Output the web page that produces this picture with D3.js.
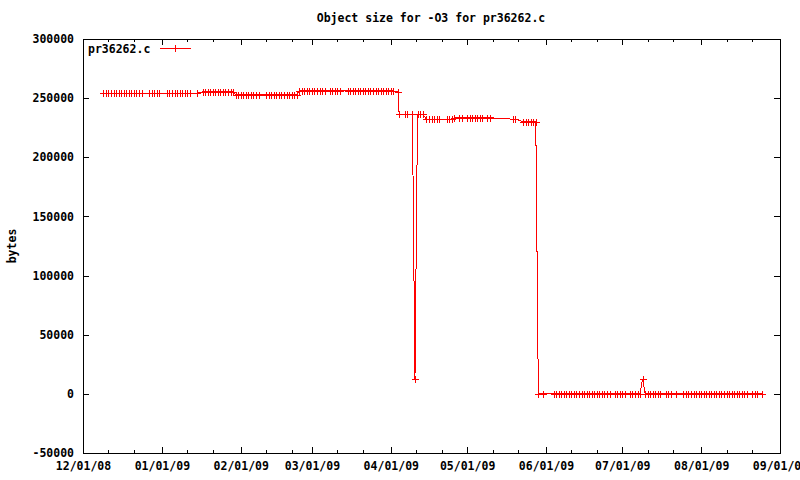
<!DOCTYPE html>
<html><head><meta charset="utf-8">
<script src="https://cdn.jsdelivr.net/npm/d3@7/dist/d3.min.js"></script>
<style>
body{margin:0;background:#fff}
svg{display:block}
text{font-family:"DejaVu Sans Mono",monospace;font-weight:bold;font-size:11.5px;fill:#000}
</style>
</head><body>
<svg id="chart" width="800" height="480"></svg>
<script>
const title = "Object size for -O3 for pr36262.c";
const seriesName = "pr36262.c";
const yLabel = "bytes";
const yTicks = [-50000, 0, 50000, 100000, 150000, 200000, 250000, 300000];
const xTickLabels = ["12/01/08","01/01/09","02/01/09","03/01/09","04/01/09","05/01/09","06/01/09","07/01/09","08/01/09","09/01/09"];

const dates = [
  "2008-12-09","2008-12-10","2008-12-11","2008-12-12","2008-12-13","2008-12-14","2008-12-15","2008-12-16",
  "2008-12-17","2008-12-18","2008-12-19","2008-12-20","2008-12-21","2008-12-22","2008-12-23","2008-12-24",
  "2008-12-27","2008-12-28","2008-12-29","2008-12-30","2008-12-31",
  "2009-01-03","2009-01-04","2009-01-05","2009-01-06","2009-01-07","2009-01-08","2009-01-09","2009-01-10","2009-01-11","2009-01-12",
  "2009-01-15",
  "2009-01-17","2009-01-18","2009-01-19","2009-01-20","2009-01-21","2009-01-22","2009-01-23","2009-01-24","2009-01-25","2009-01-26","2009-01-27","2009-01-28","2009-01-29",
  "2009-01-30","2009-01-31","2009-02-01","2009-02-02","2009-02-03","2009-02-04","2009-02-05","2009-02-06","2009-02-07","2009-02-08",
  "2009-02-11","2009-02-12","2009-02-13","2009-02-14","2009-02-15","2009-02-16","2009-02-17","2009-02-18","2009-02-19","2009-02-20","2009-02-21","2009-02-22","2009-02-23",
  "2009-02-24","2009-02-25","2009-02-26","2009-02-27","2009-02-28",
  "2009-03-01","2009-03-02","2009-03-03","2009-03-04","2009-03-05","2009-03-06",
  "2009-03-08","2009-03-09","2009-03-10","2009-03-11","2009-03-12",
  "2009-03-15","2009-03-16","2009-03-17","2009-03-18","2009-03-19","2009-03-20","2009-03-21","2009-03-22","2009-03-23",
  "2009-03-24","2009-03-25","2009-03-26","2009-03-27","2009-03-28","2009-03-29","2009-03-30","2009-03-31",
  "2009-04-01","2009-04-02",
  "2009-04-04",
  "2009-04-04 06:00","2009-04-06 12:00","2009-04-07 12:00","2009-04-09 12:00",
  "2009-04-10 12:00",
  "2009-04-11 12:00","2009-04-12 12:00","2009-04-13 12:00",
  "2009-04-15","2009-04-16","2009-04-17","2009-04-18","2009-04-19","2009-04-20","2009-04-23","2009-04-24","2009-04-25",
  "2009-04-26","2009-04-28","2009-04-29","2009-05-01","2009-05-02","2009-05-03","2009-05-04","2009-05-05","2009-05-06","2009-05-07","2009-05-09","2009-05-10",
  "2009-05-19","2009-05-20",
  "2009-05-23","2009-05-24","2009-05-25","2009-05-26","2009-05-27","2009-05-28",
  "2009-05-29","2009-05-31",
  "2009-06-04","2009-06-05","2009-06-06","2009-06-07","2009-06-08","2009-06-09","2009-06-10","2009-06-11","2009-06-12",
  "2009-06-13","2009-06-14","2009-06-15","2009-06-16","2009-06-17","2009-06-18","2009-06-19","2009-06-20","2009-06-21",
  "2009-06-22","2009-06-23","2009-06-24","2009-06-25","2009-06-26",
  "2009-06-28","2009-06-29","2009-06-30","2009-07-01","2009-07-02",
  "2009-07-04","2009-07-05","2009-07-06","2009-07-07","2009-07-08",
  "2009-07-09",
  "2009-07-10","2009-07-11","2009-07-12","2009-07-13","2009-07-14","2009-07-15","2009-07-16",
  "2009-07-18","2009-07-19","2009-07-20",
  "2009-07-22",
  "2009-07-25","2009-07-26","2009-07-27","2009-07-28","2009-07-29","2009-07-30","2009-07-31",
  "2009-08-01","2009-08-02","2009-08-03","2009-08-04","2009-08-05","2009-08-06","2009-08-07","2009-08-08","2009-08-09","2009-08-10",
  "2009-08-11","2009-08-12","2009-08-13","2009-08-14","2009-08-15","2009-08-16","2009-08-17","2009-08-18","2009-08-19",
  "2009-08-21","2009-08-22","2009-08-23",
  "2009-08-25"
];

const sizes = [
  254200,254200,254200,254200,254200,254200,254200,254200,
  254200,254200,254200,254200,254200,254200,254200,254200,
  254200,254200,254200,254200,254200,
  254200,254200,254200,254200,254200,254200,254200,254200,254200,254200,
  254200,
  255300,255300,255300,255300,255300,255300,255300,255300,255300,255300,255300,255300,255300,
  253000,253000,253000,253000,253000,253000,253000,253000,253000,253000,
  253000,253000,253000,253000,253000,253000,253000,253000,253000,253000,253000,253000,253000,
  256200,256200,256200,256200,256200,
  256200,256200,256200,256200,256200,256200,
  256200,256200,256200,256200,256200,
  256200,256200,256200,256200,256200,256200,256200,256200,256200,
  256200,256200,256200,256200,256200,256200,256200,256200,
  256200,256200,
  255100,
  236500,236500,236500,236500,
  12400,
  236500,236500,236500,
  232200,232200,232200,232200,232200,232200,232200,232200,232200,
  233400,233400,233400,233400,233400,233400,233400,233400,233400,233400,233400,233400,
  232200,232200,
  230000,230000,230000,230000,230000,230000,
  0,0,
  0,0,0,0,0,0,0,0,0,
  0,0,0,0,0,0,0,0,0,
  0,0,0,0,0,
  0,0,0,0,0,
  0,0,0,0,0,
  12800,
  0,0,0,0,0,0,0,
  0,0,0,
  0,
  0,0,0,0,0,0,0,
  0,0,0,0,0,0,0,0,0,0,
  0,0,0,0,0,0,0,0,0,
  0,0,0,
  0
];

const parseDay = d3.timeParse("%Y-%m-%d");
const parseDayTime = d3.timeParse("%Y-%m-%d %H:%M");
const parseTick = d3.timeParse("%m/%d/%y");
const data = dates.map((s, i) => ({ t: s.length > 10 ? parseDayTime(s) : parseDay(s), v: sizes[i] }));

const L = 83, R = 780, T = 39, B = 453;
const majorTicks = xTickLabels.map(parseTick);
const minorTicks = [];
majorTicks.slice(0, -1).forEach(m => { minorTicks.push(d3.timeDay.offset(m, 10), d3.timeDay.offset(m, 20)); });

const x = d3.scaleTime().domain([majorTicks[0], majorTicks[majorTicks.length - 1]]).range([L, R]);
const y = d3.scaleLinear().domain([yTicks[0], yTicks[yTicks.length - 1]]).range([B, T]);

const svg = d3.select("#chart");
svg.append("rect").attr("width", 800).attr("height", 480).attr("fill", "#fff");

function styleAxis(g) {
  g.select(".domain").remove();
  g.selectAll("line").attr("stroke", "#000").attr("shape-rendering", "crispEdges");
  g.attr("font-family", null).attr("font-size", null);
  g.selectAll("text").attr("fill", "#000");
}

const fmt = d3.timeFormat("%m/%d/%y");
svg.append("g").attr("transform", `translate(0,${B})`)
  .call(d3.axisBottom(x).tickValues(majorTicks).tickFormat(fmt).tickSizeInner(-6).tickSizeOuter(0).tickPadding(9))
  .call(styleAxis);
svg.append("g").attr("transform", `translate(0,${B})`)
  .call(d3.axisBottom(x).tickValues(minorTicks).tickFormat("").tickSizeInner(-3).tickSizeOuter(0))
  .call(styleAxis);
svg.append("g").attr("transform", `translate(0,${T})`)
  .call(d3.axisTop(x).tickValues(majorTicks).tickFormat("").tickSizeInner(-6).tickSizeOuter(0))
  .call(styleAxis);
svg.append("g").attr("transform", `translate(0,${T})`)
  .call(d3.axisTop(x).tickValues(minorTicks).tickFormat("").tickSizeInner(-3).tickSizeOuter(0))
  .call(styleAxis);
svg.append("g").attr("transform", `translate(${L},0)`)
  .call(d3.axisLeft(y).tickValues(yTicks).tickFormat(d => String(d)).tickSizeInner(-6).tickSizeOuter(0).tickPadding(9))
  .call(styleAxis);
svg.append("g").attr("transform", `translate(${R},0)`)
  .call(d3.axisRight(y).tickValues(yTicks).tickFormat("").tickSizeInner(-6).tickSizeOuter(0))
  .call(styleAxis);

svg.append("rect").attr("x", L + 0.5).attr("y", T + 0.5).attr("width", R - L).attr("height", B - T)
  .attr("fill", "none").attr("stroke", "#000").attr("shape-rendering", "crispEdges");

// series
const line = d3.line().x(d => x(d.t)).y(d => y(d.v));
svg.append("path").datum(data).attr("d", line).attr("fill", "none")
  .attr("stroke", "#ff0000").attr("stroke-width", 1).attr("shape-rendering", "crispEdges");

function plus(cx, cy) {
  const px = Math.round(cx) + 0.5, py = Math.round(cy) + 0.5;
  return `M${px - 3.5},${py}H${px + 3.5}M${px},${py - 3.5}V${py + 3.5}`;
}
svg.append("path").attr("d", data.map(d => plus(x(d.t), y(d.v))).join(""))
  .attr("fill", "none").attr("stroke", "#ff0000").attr("stroke-width", 1).attr("shape-rendering", "crispEdges");

// title
svg.append("text").attr("x", 431).attr("y", 22).attr("text-anchor", "middle").text(title);
// y label
svg.append("text").attr("transform", "translate(16,246) rotate(-90)").attr("text-anchor", "middle").text(yLabel);

// legend
svg.append("text").attr("x", 88).attr("y", 53).text(seriesName);
svg.append("line").attr("x1", 160).attr("x2", 191).attr("y1", 48.5).attr("y2", 48.5)
  .attr("stroke", "#ff0000").attr("shape-rendering", "crispEdges");
svg.append("path").attr("d", plus(175, 48)).attr("stroke", "#ff0000").attr("fill", "none").attr("shape-rendering", "crispEdges");
</script>
</body></html>
